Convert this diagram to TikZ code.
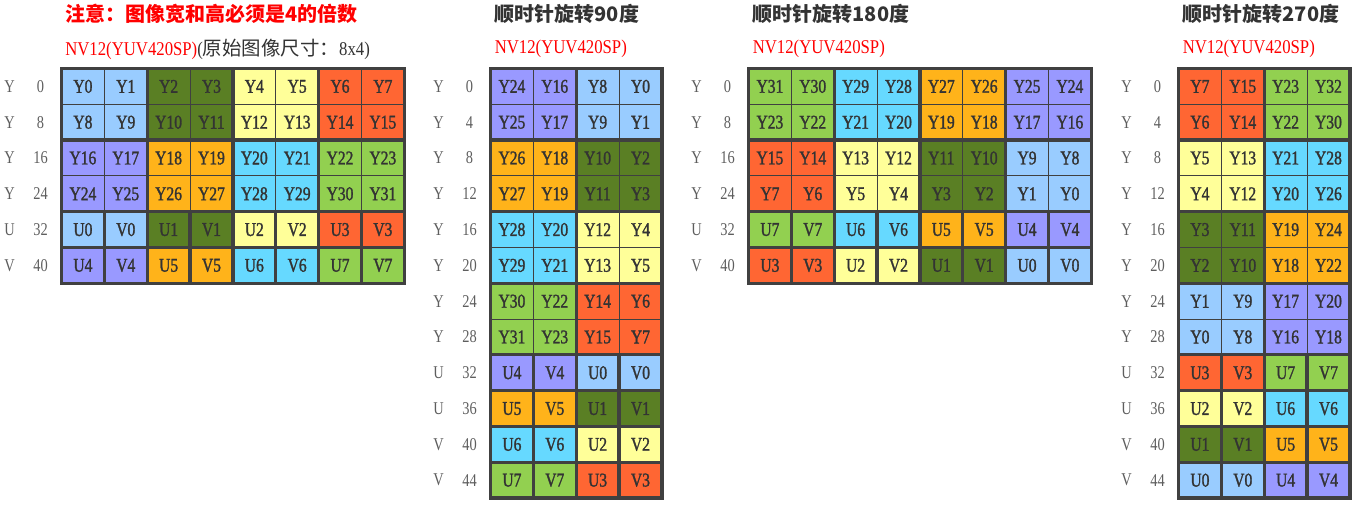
\documentclass[tikz,border=0pt]{standalone}
\usepackage{fontspec}
\setmainfont[FakeStretch=0.86]{Liberation Serif}
\newfontfamily\cellfont[FakeStretch=0.8, FakeBold=1.4]{Liberation Serif}
\newfontfamily\rowfont[FakeStretch=0.8]{Liberation Serif}
\newfontfamily\cjk{Noto Sans CJK SC}
\usepackage{tikz}
\usetikzlibrary{positioning}
\usepackage{xcolor}

% block colours
\definecolor{lb}{HTML}{99CCFF}
\definecolor{dg}{HTML}{5A7F24}
\definecolor{ly}{HTML}{FFFF99}
\definecolor{rd}{HTML}{FF6633}
\definecolor{pu}{HTML}{9999FF}
\definecolor{og}{HTML}{FFB31A}
\definecolor{cy}{HTML}{66D9FF}
\definecolor{gr}{HTML}{92D050}
\definecolor{gridline}{HTML}{404040}
\definecolor{celltext}{HTML}{333333}
\definecolor{rowtext}{HTML}{5E5E5E}
\definecolor{textgray}{HTML}{333333}

\tikzset{
  cell/.style={draw=gridline, line width=0.75pt, minimum width=32.14pt, minimum height=26.85pt,
    inner sep=0pt, outer sep=0pt, text=celltext, font=\cellfont\fontsize{14.6}{14.6}\selectfont},
  group line/.style={draw=gridline, line width=2.4pt},
  rowlab/.style={text=rowtext, inner sep=0pt, font=\rowfont\fontsize{13.5}{13.5}\selectfont},
  head/.style={anchor=west, inner sep=0pt, font=\cjk\bfseries\fontsize{15}{18}\selectfont},
  fmt/.style={anchor=west, inner sep=0pt, text=textgray, font=\fontsize{14.6}{18}\selectfont},
}

% name, left edge, rows of cells
\newcommand{\nvcells}[3]{%
  \foreach \rowcells [count=\r] in {#3} {
    \foreach \txt/\clr [count=\k] in \rowcells
      \node[cell, fill=\clr] (#1-\r-\k) at ({#2+(\k-0.5)*42.85}, {68.5+(\r-0.5)*35.8}) {\txt};
  }
}
% name, left edge, row labels
\newcommand{\nvrows}[3]{%
  \foreach \p/\n [count=\r] in {#3} {
    \node[rowlab] (#1-p\r) at ({#2-52}, {68.5+(\r-0.5)*35.8}) {\p};
    \node[rowlab] (#1-n\r) at ({#2-21}, {68.5+(\r-0.5)*35.8}) {\n};
  }
}
% name, columns, rows (the last third of the rows is U/V)
\newcommand{\nvlines}[3]{%
  \pgfmathtruncatemacro\yrows{2*#3/3}
  \pgfmathtruncatemacro\uvtop{\yrows+1}
  \pgfmathtruncatemacro\lastrow{#3-1}
  \pgfmathtruncatemacro\lastodd{#2-1}
  \foreach \k in {2,4,...,#2}
    \draw[group line] (#1-1-\k.north east) -- (#1-#3-\k.south east);
  \foreach \k in {1,3,...,\lastodd}
    \draw[group line] (#1-\uvtop-\k.north east) -- (#1-#3-\k.south east);
  \foreach \j in {2,4,...,\yrows}
    \draw[group line] (#1-\j-1.south west) -- (#1-\j-#2.south east);
  \foreach \j in {\uvtop,...,\lastrow}
    \draw[group line] (#1-\j-1.south west) -- (#1-\j-#2.south east);
  \draw[group line] (#1-1-1.north west) rectangle (#1-#3-#2.south east);
}

\begin{document}
\begin{tikzpicture}[x=0.75pt, y=-0.75pt]
\useasboundingbox (0,0) rectangle (1356,505);

% titles
\node[head, text=red] (src-title) at (65,14) {注意：图像宽和高必须是4的倍数};
\node[fmt] (src-fmt) at (65,49) {\textcolor{red}{NV12(YUV420SP)}({\cjk 原始图像尺寸：}8x4)};
\node[head, text=textgray] (r90-title) at (494.5,14) {顺时针旋转90度};
\node[fmt, text=red] (r90-fmt) at (494.5,49) {NV12(YUV420SP)};
\node[head, text=textgray] (r180-title) at (752.5,14) {顺时针旋转180度};
\node[fmt, text=red] (r180-fmt) at (752.5,49) {NV12(YUV420SP)};
\node[head, text=textgray] (r270-title) at (1182.5,14) {顺时针旋转270度};
\node[fmt, text=red] (r270-fmt) at (1182.5,49) {NV12(YUV420SP)};

% original 8x4
\nvcells{src}{61.5}{
  {Y0/lb,Y1/lb,Y2/dg,Y3/dg,Y4/ly,Y5/ly,Y6/rd,Y7/rd},
  {Y8/lb,Y9/lb,Y10/dg,Y11/dg,Y12/ly,Y13/ly,Y14/rd,Y15/rd},
  {Y16/pu,Y17/pu,Y18/og,Y19/og,Y20/cy,Y21/cy,Y22/gr,Y23/gr},
  {Y24/pu,Y25/pu,Y26/og,Y27/og,Y28/cy,Y29/cy,Y30/gr,Y31/gr},
  {U0/lb,V0/lb,U1/dg,V1/dg,U2/ly,V2/ly,U3/rd,V3/rd},
  {U4/pu,V4/pu,U5/og,V5/og,U6/cy,V6/cy,U7/gr,V7/gr}}
\nvlines{src}{8}{6}
\nvrows{src}{61.5}{Y/0,Y/8,Y/16,Y/24,U/32,V/40}

% 90 degrees
\nvcells{r90}{490.5}{
  {Y24/pu,Y16/pu,Y8/lb,Y0/lb},
  {Y25/pu,Y17/pu,Y9/lb,Y1/lb},
  {Y26/og,Y18/og,Y10/dg,Y2/dg},
  {Y27/og,Y19/og,Y11/dg,Y3/dg},
  {Y28/cy,Y20/cy,Y12/ly,Y4/ly},
  {Y29/cy,Y21/cy,Y13/ly,Y5/ly},
  {Y30/gr,Y22/gr,Y14/rd,Y6/rd},
  {Y31/gr,Y23/gr,Y15/rd,Y7/rd},
  {U4/pu,V4/pu,U0/lb,V0/lb},
  {U5/og,V5/og,U1/dg,V1/dg},
  {U6/cy,V6/cy,U2/ly,V2/ly},
  {U7/gr,V7/gr,U3/rd,V3/rd}}
\nvlines{r90}{4}{12}
\nvrows{r90}{490.5}{Y/0,Y/4,Y/8,Y/12,Y/16,Y/20,Y/24,Y/28,U/32,U/36,V/40,V/44}

% 180 degrees
\nvcells{r180}{748.5}{
  {Y31/gr,Y30/gr,Y29/cy,Y28/cy,Y27/og,Y26/og,Y25/pu,Y24/pu},
  {Y23/gr,Y22/gr,Y21/cy,Y20/cy,Y19/og,Y18/og,Y17/pu,Y16/pu},
  {Y15/rd,Y14/rd,Y13/ly,Y12/ly,Y11/dg,Y10/dg,Y9/lb,Y8/lb},
  {Y7/rd,Y6/rd,Y5/ly,Y4/ly,Y3/dg,Y2/dg,Y1/lb,Y0/lb},
  {U7/gr,V7/gr,U6/cy,V6/cy,U5/og,V5/og,U4/pu,V4/pu},
  {U3/rd,V3/rd,U2/ly,V2/ly,U1/dg,V1/dg,U0/lb,V0/lb}}
\nvlines{r180}{8}{6}
\nvrows{r180}{748.5}{Y/0,Y/8,Y/16,Y/24,U/32,V/40}

% 270 degrees
\nvcells{r270}{1178.5}{
  {Y7/rd,Y15/rd,Y23/gr,Y32/gr},
  {Y6/rd,Y14/rd,Y22/gr,Y30/gr},
  {Y5/ly,Y13/ly,Y21/cy,Y28/cy},
  {Y4/ly,Y12/ly,Y20/cy,Y26/cy},
  {Y3/dg,Y11/dg,Y19/og,Y24/og},
  {Y2/dg,Y10/dg,Y18/og,Y22/og},
  {Y1/lb,Y9/lb,Y17/pu,Y20/pu},
  {Y0/lb,Y8/lb,Y16/pu,Y18/pu},
  {U3/rd,V3/rd,U7/gr,V7/gr},
  {U2/ly,V2/ly,U6/cy,V6/cy},
  {U1/dg,V1/dg,U5/og,V5/og},
  {U0/lb,V0/lb,U4/pu,V4/pu}}
\nvlines{r270}{4}{12}
\nvrows{r270}{1178.5}{Y/0,Y/4,Y/8,Y/12,Y/16,Y/20,Y/24,Y/28,U/32,U/36,V/40,V/44}
\end{tikzpicture}
\end{document}
